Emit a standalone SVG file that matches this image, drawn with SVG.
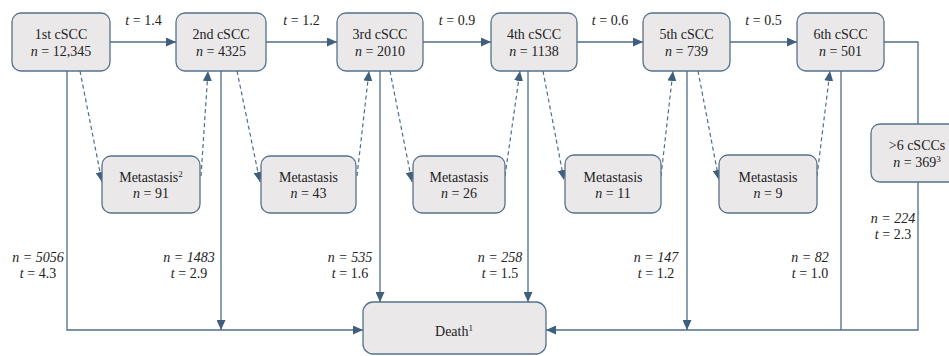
<svg xmlns="http://www.w3.org/2000/svg" width="949" height="356" viewBox="0 0 949 356">
<style>
.box{fill:#ebe8ea;stroke:#56718b;stroke-width:1.3}
.t{font-family:"Liberation Serif","Times New Roman",serif;font-size:14px;fill:#222;text-anchor:middle}
.i{font-style:italic}
.ln{fill:none;stroke:#4f6d8a;stroke-width:1.3}
.ds{fill:none;stroke:#4f6d8a;stroke-width:1.2;stroke-dasharray:4 3}
.sup{font-size:9px}
</style>
<defs>
<marker id="ah" markerUnits="userSpaceOnUse" markerWidth="10" markerHeight="9" refX="10" refY="4.5" orient="auto">
<path d="M0,0 L10,4.5 L0,9 z" fill="#3f5f7d"/>
</marker>
</defs>
<g id="connectors">
<path class="ln" d="M110,42 H176" marker-end="url(#ah)"/>
<path class="ln" d="M266,42 H337" marker-end="url(#ah)"/>
<path class="ln" d="M423,42 H491" marker-end="url(#ah)"/>
<path class="ln" d="M577,42 H643" marker-end="url(#ah)"/>
<path class="ln" d="M730,42 H797" marker-end="url(#ah)"/>
<path class="ln" d="M884,42 H918 V124"/>
<path class="ln" d="M67,71 V330 H363" marker-end="url(#ah)"/>
<path class="ln" d="M221,71 V330" marker-end="url(#ah)"/>
<path class="ln" d="M380,71 V302" marker-end="url(#ah)"/>
<path class="ln" d="M528,71 V302" marker-end="url(#ah)"/>
<path class="ln" d="M687,71 V330" marker-end="url(#ah)"/>
<path class="ln" d="M841,71 V330"/>
<path class="ln" d="M918,182 V330 H546" marker-end="url(#ah)"/>
<path class="ds" d="M80,71 L102,182" marker-end="url(#ah)"/>
<path class="ds" d="M201,176 L208,71" marker-end="url(#ah)"/>
<path class="ds" d="M237,71 L260,182" marker-end="url(#ah)"/>
<path class="ds" d="M357,176 L369,71" marker-end="url(#ah)"/>
<path class="ds" d="M390,71 L412,182" marker-end="url(#ah)"/>
<path class="ds" d="M505,176 L520,71" marker-end="url(#ah)"/>
<path class="ds" d="M543,71 L564,180" marker-end="url(#ah)"/>
<path class="ds" d="M661,176 L673,71" marker-end="url(#ah)"/>
<path class="ds" d="M698,71 L719,180" marker-end="url(#ah)"/>
<path class="ds" d="M817,176 L830,71" marker-end="url(#ah)"/>
</g>
<g id="edge-labels">
<text class="t" x="143.5" y="25"><tspan class="i">t</tspan> = 1.4</text>
<text class="t" x="301.5" y="25"><tspan class="i">t</tspan> = 1.2</text>
<text class="t" x="457" y="25"><tspan class="i">t</tspan> = 0.9</text>
<text class="t" x="610" y="25"><tspan class="i">t</tspan> = 0.6</text>
<text class="t" x="763.5" y="25"><tspan class="i">t</tspan> = 0.5</text>
<text class="t i" x="38" y="262">n = 5056</text>
<text class="t" x="38" y="278"><tspan class="i">t</tspan> = 4.3</text>
<text class="t i" x="189" y="262">n = 1483</text>
<text class="t" x="189" y="278"><tspan class="i">t</tspan> = 2.9</text>
<text class="t i" x="350" y="262">n = 535</text>
<text class="t" x="350" y="278"><tspan class="i">t</tspan> = 1.6</text>
<text class="t i" x="500" y="262">n = 258</text>
<text class="t" x="500" y="278"><tspan class="i">t</tspan> = 1.5</text>
<text class="t i" x="656" y="262">n = 147</text>
<text class="t" x="656" y="278"><tspan class="i">t</tspan> = 1.2</text>
<text class="t i" x="810" y="262">n = 82</text>
<text class="t" x="810" y="278"><tspan class="i">t</tspan> = 1.0</text>
<text class="t i" x="893" y="223">n = 224</text>
<text class="t" x="893" y="239"><tspan class="i">t</tspan> = 2.3</text>
</g>
<g id="n1"><rect class="box" x="12" y="13" width="98" height="58" rx="9"/><text class="t" x="61" y="39">1st cSCC</text><text class="t" x="61" y="56"><tspan class="i">n</tspan> = 12,345</text></g>
<g id="n2"><rect class="box" x="176" y="13" width="90" height="58" rx="9"/><text class="t" x="221" y="39">2nd cSCC</text><text class="t" x="221" y="56"><tspan class="i">n</tspan> = 4325</text></g>
<g id="n3"><rect class="box" x="337" y="13" width="86" height="58" rx="9"/><text class="t" x="380" y="39">3rd cSCC</text><text class="t" x="380" y="56"><tspan class="i">n</tspan> = 2010</text></g>
<g id="n4"><rect class="box" x="491" y="13" width="86" height="58" rx="9"/><text class="t" x="534" y="39">4th cSCC</text><text class="t" x="534" y="56"><tspan class="i">n</tspan> = 1138</text></g>
<g id="n5"><rect class="box" x="643" y="13" width="87" height="58" rx="9"/><text class="t" x="686.5" y="39">5th cSCC</text><text class="t" x="686.5" y="56"><tspan class="i">n</tspan> = 739</text></g>
<g id="n6"><rect class="box" x="797" y="13" width="87" height="58" rx="9"/><text class="t" x="840.5" y="39">6th cSCC</text><text class="t" x="840.5" y="56"><tspan class="i">n</tspan> = 501</text></g>
<g id="n7"><rect class="box" x="871" y="124" width="90" height="58" rx="9"/><text class="t" x="917" y="150">&gt;6 cSCCs</text><text class="t" x="917" y="167"><tspan class="i">n</tspan> = 369<tspan class="sup" dy="-5">3</tspan></text></g>
<g id="m1"><rect class="box" x="102" y="156" width="98" height="57" rx="9"/><text class="t" x="151" y="182">Metastasis<tspan class="sup" dy="-5">2</tspan></text><text class="t" x="151" y="198"><tspan class="i">n</tspan> = 91</text></g>
<g id="m2"><rect class="box" x="261" y="156" width="95" height="57" rx="9"/><text class="t" x="308.5" y="182">Metastasis</text><text class="t" x="308.5" y="198"><tspan class="i">n</tspan> = 43</text></g>
<g id="m3"><rect class="box" x="413" y="156" width="92" height="57" rx="9"/><text class="t" x="459" y="182">Metastasis</text><text class="t" x="459" y="198"><tspan class="i">n</tspan> = 26</text></g>
<g id="m4"><rect class="box" x="565" y="155" width="96" height="58" rx="9"/><text class="t" x="613" y="182">Metastasis</text><text class="t" x="613" y="198"><tspan class="i">n</tspan> = 11</text></g>
<g id="m5"><rect class="box" x="719" y="155" width="98" height="58" rx="9"/><text class="t" x="768" y="182">Metastasis</text><text class="t" x="768" y="198"><tspan class="i">n</tspan> = 9</text></g>
<g id="death"><rect class="box" x="363" y="302" width="183" height="52" rx="10"/><text class="t" x="454" y="336">Death<tspan class="sup" dy="-5">1</tspan></text></g>
</svg>
